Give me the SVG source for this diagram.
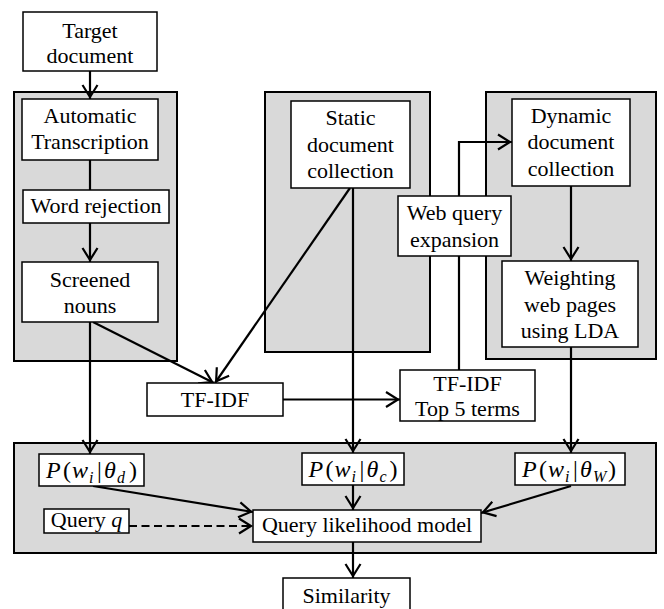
<svg xmlns="http://www.w3.org/2000/svg" width="664" height="609" viewBox="0 0 664 609">
  <defs>
    <style>
      .panel { fill: #d9d9d9; stroke: #000; stroke-width: 2; }
      .box { fill: #fff; stroke: #000; stroke-width: 1.5; }
      .t { font-family: "Liberation Serif", "Times New Roman", serif; font-size: 22px; text-anchor: middle; fill: #000; }
      .m { font-family: "Liberation Serif", "Times New Roman", serif; font-size: 24px; font-style: italic; fill: #000; }
      .up { font-style: normal; }
      .sub { font-size: 16px; }
      .edge { fill: none; stroke: #000; stroke-width: 2.2; }
      .dash { stroke-dasharray: 8 4.5; }
    </style>
    <marker id="arrow" viewBox="-16 -10 18 20" refX="0" refY="0" markerWidth="18" markerHeight="20" markerUnits="userSpaceOnUse" orient="auto">
      <path d="M-14,-7.5 L-2,0 L-14,7.5" fill="none" stroke="#000" stroke-width="2.2"/>
    </marker>
  </defs>

  <!-- grey grouping panels -->
  <g id="panels">
    <rect id="panel-target" class="panel" x="14" y="92" width="163" height="269"/>
    <rect id="panel-static" class="panel" x="265" y="92" width="165" height="260"/>
    <rect id="panel-dynamic" class="panel" x="486" y="92" width="170" height="267"/>
    <rect id="panel-model" class="panel" x="14" y="443" width="642" height="110"/>
  </g>

  <!-- connectors -->
  <g id="connectors">
    <line class="edge" x1="90" y1="71" x2="90" y2="99" marker-end="url(#arrow)"/>
    <line class="edge" x1="90" y1="160" x2="90" y2="190"/>
    <line class="edge" x1="90" y1="223" x2="90" y2="262" marker-end="url(#arrow)"/>
    <line class="edge" x1="90" y1="322" x2="90" y2="454" marker-end="url(#arrow)"/>
    <line class="edge" x1="93" y1="322" x2="214" y2="383" marker-end="url(#arrow)"/>
    <line class="edge" x1="350" y1="188" x2="215" y2="383" marker-end="url(#arrow)"/>
    <line class="edge" x1="353" y1="188" x2="353" y2="453" marker-end="url(#arrow)"/>
    <line class="edge" x1="283" y1="399.5" x2="400" y2="399.5" marker-end="url(#arrow)"/>
    <polyline class="edge" points="459,370 459,142 512,142" marker-end="url(#arrow)"/>
    <line class="edge" x1="571" y1="186" x2="571" y2="261" marker-end="url(#arrow)"/>
    <line class="edge" x1="571" y1="347" x2="571" y2="453" marker-end="url(#arrow)"/>
    <line class="edge" x1="93" y1="486" x2="253" y2="512" marker-end="url(#arrow)"/>
    <line class="edge dash" x1="129" y1="526" x2="253" y2="526" marker-end="url(#arrow)"/>
    <line class="edge" x1="353" y1="485" x2="353" y2="510" marker-end="url(#arrow)"/>
    <line class="edge" x1="571" y1="486" x2="481" y2="513" marker-end="url(#arrow)"/>
    <line class="edge" x1="353" y1="542" x2="353" y2="578" marker-end="url(#arrow)"/>
  </g>

  <!-- nodes -->
  <g id="target-document">
    <rect class="box" x="23" y="12" width="134" height="59"/>
    <text class="t" x="90" y="38">Target</text>
    <text class="t" x="90" y="63">document</text>
  </g>
  <g id="automatic-transcription">
    <rect class="box" x="22" y="99" width="136" height="61"/>
    <text class="t" x="90" y="123">Automatic</text>
    <text class="t" x="90" y="149">Transcription</text>
  </g>
  <g id="word-rejection">
    <rect class="box" x="23" y="190" width="146" height="33"/>
    <text class="t" x="96" y="213">Word rejection</text>
  </g>
  <g id="screened-nouns">
    <rect class="box" x="22" y="262" width="136" height="60"/>
    <text class="t" x="90" y="287">Screened</text>
    <text class="t" x="90" y="313">nouns</text>
  </g>
  <g id="static-collection">
    <rect class="box" x="291" y="101" width="119" height="87"/>
    <text class="t" x="350.5" y="125">Static</text>
    <text class="t" x="350.5" y="151.5">document</text>
    <text class="t" x="350.5" y="178">collection</text>
  </g>
  <g id="web-query-expansion">
    <rect class="box" x="398" y="196" width="113" height="60"/>
    <text class="t" x="454.5" y="220">Web query</text>
    <text class="t" x="454.5" y="246.5">expansion</text>
  </g>
  <g id="dynamic-collection">
    <rect class="box" x="512" y="99" width="118" height="87"/>
    <text class="t" x="571" y="122.5">Dynamic</text>
    <text class="t" x="571" y="149">document</text>
    <text class="t" x="571" y="175.5">collection</text>
  </g>
  <g id="weighting-lda">
    <rect class="box" x="502" y="261" width="136" height="86"/>
    <text class="t" x="570" y="285">Weighting</text>
    <text class="t" x="570" y="311.5">web pages</text>
    <text class="t" x="570" y="338">using LDA</text>
  </g>
  <g id="tfidf">
    <rect class="box" x="147" y="383" width="136" height="33"/>
    <text class="t" x="215" y="407">TF-IDF</text>
  </g>
  <g id="tfidf-top5">
    <rect class="box" x="400" y="370" width="135" height="51"/>
    <text class="t" x="467.5" y="391">TF-IDF</text>
    <text class="t" x="467.5" y="416">Top 5 terms</text>
  </g>
  <g id="p-theta-d">
    <rect class="box" x="39" y="454" width="105" height="32"/>
    <text class="m" y="478"><tspan x="46">P</tspan><tspan class="up" x="63">(</tspan><tspan x="72">w</tspan><tspan class="sub" x="89" y="483">i</tspan><tspan class="up" x="97" y="478">|</tspan><tspan x="104">θ</tspan><tspan class="sub" x="117" y="483">d</tspan><tspan class="up" x="129" y="478">)</tspan></text>
  </g>
  <g id="p-theta-c">
    <rect class="box" x="302" y="453" width="102" height="32"/>
    <text class="m" y="477"><tspan x="308.5">P</tspan><tspan class="up" x="325.5">(</tspan><tspan x="334.5">w</tspan><tspan class="sub" x="351.5" y="482">i</tspan><tspan class="up" x="359.5" y="477">|</tspan><tspan x="366.5">θ</tspan><tspan class="sub" x="379.5" y="482">c</tspan><tspan class="up" x="389.5" y="477">)</tspan></text>
  </g>
  <g id="p-theta-w">
    <rect class="box" x="515" y="453" width="110" height="32"/>
    <text class="m" y="477"><tspan x="522">P</tspan><tspan class="up" x="539">(</tspan><tspan x="548">w</tspan><tspan class="sub" x="565" y="482">i</tspan><tspan class="up" x="573" y="477">|</tspan><tspan x="580">θ</tspan><tspan class="sub" x="593" y="482">W</tspan><tspan class="up" x="608" y="477">)</tspan></text>
  </g>
  <g id="query-q">
    <rect class="box" x="44" y="509" width="85" height="24"/>
    <text class="t" x="86.5" y="527">Query <tspan font-style="italic">q</tspan></text>
  </g>
  <g id="query-likelihood-model">
    <rect class="box" x="253" y="510" width="228" height="32"/>
    <text class="t" x="367" y="532">Query likelihood model</text>
  </g>
  <g id="similarity">
    <rect class="box" x="283" y="578" width="127" height="40"/>
    <text class="t" x="346.5" y="603">Similarity</text>
  </g>
</svg>
